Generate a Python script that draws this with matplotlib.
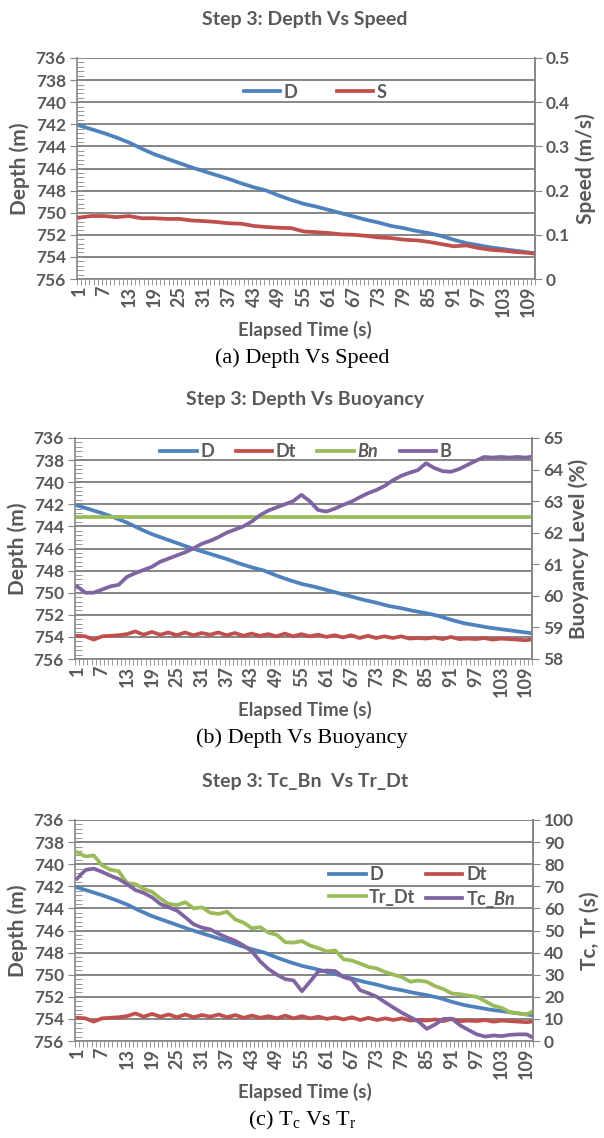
import matplotlib
matplotlib.use("Agg")
import matplotlib.pyplot as plt
from matplotlib.ticker import MultipleLocator, FixedLocator

plt.rcParams['font.family'] = ['Lato', 'DejaVu Sans']
plt.rcParams['mathtext.fontset'] = 'custom'
plt.rcParams['mathtext.rm'] = 'Liberation Serif'
plt.rcParams['mathtext.it'] = 'Lato:italic:bold'

GREY = '#595959'
GRID = '#868686'
BLUE = '#4F81BD'
RED = '#C0504D'
GREEN = '#9BBB59'
PURPLE = '#8064A2'

# elapsed time samples (s)
t_slow = [1, 4, 7, 10, 13, 16, 19, 22, 25, 28, 31, 34, 37, 40, 43, 46, 49, 52, 55, 58,
          61, 64, 67, 70, 73, 76, 79, 82, 85, 88, 91, 94, 97, 100, 103, 106, 109, 110]
t_fast = list(range(1, 110, 2)) + [110]

# depth (m)
depth = [742.1, 742.45, 742.8, 743.2, 743.65, 744.2, 744.7, 745.1, 745.5, 745.9,
         746.25, 746.6, 746.95, 747.35, 747.7, 748.0, 748.45, 748.85, 749.2, 749.45,
         749.75, 750.05, 750.35, 750.65, 750.9, 751.2, 751.4, 751.65, 751.85, 752.1,
         752.45, 752.75, 752.95, 753.15, 753.3, 753.45, 753.6, 753.65]

# speed (m/s)
speed = [0.139, 0.1425, 0.1425, 0.14, 0.1425, 0.1375, 0.1375, 0.136, 0.136, 0.1325,
         0.131, 0.129, 0.126, 0.125, 0.12, 0.1175, 0.116, 0.115, 0.1075, 0.106,
         0.104, 0.101, 0.1, 0.0975, 0.094, 0.0925, 0.089, 0.0875, 0.084, 0.079,
         0.074, 0.076, 0.07, 0.066, 0.064, 0.061, 0.059, 0.058]

# target depth (m)
depth_target = [753.9, 753.95, 754.25, 753.95, 753.9, 753.85, 753.75, 753.5, 753.8, 753.55,
                753.8, 753.6, 753.85, 753.6, 753.85, 753.65, 753.8, 753.6, 753.85, 753.65,
                753.9, 753.7, 753.9, 753.75, 753.95, 753.7, 753.95, 753.75, 753.95, 753.8,
                754.0, 753.85, 754.05, 753.85, 754.1, 753.9, 754.1, 753.95, 754.1, 753.95,
                754.15, 754.1, 754.15, 754.05, 754.2, 754.0, 754.2, 754.15, 754.2, 754.1,
                754.25, 754.15, 754.2, 754.25, 754.3, 754.25]

# buoyancy level (%)
buoy_neutral = 62.5
buoy = [60.3, 60.1, 60.1, 60.2, 60.3, 60.35, 60.6, 60.72, 60.82, 60.92,
        61.08, 61.18, 61.28, 61.38, 61.5, 61.65, 61.74, 61.86, 62.0, 62.1,
        62.2, 62.35, 62.55, 62.7, 62.8, 62.9, 63.0, 63.2, 63.0, 62.72,
        62.67, 62.76, 62.88, 62.98, 63.12, 63.25, 63.35, 63.48, 63.66, 63.8,
        63.9, 63.98, 64.2, 64.05, 63.95, 63.93, 64.02, 64.15, 64.28, 64.4,
        64.38, 64.4, 64.38, 64.4, 64.38, 64.4]

# times (s)
tr_dt = [85.4, 83.5, 84.0, 79.5, 77.5, 76.8, 71.5, 71.0, 68.8, 67.5,
         64.5, 62.0, 61.5, 62.8, 60.0, 60.5, 58.0, 57.5, 58.5, 55.0,
         53.5, 51.0, 51.5, 49.0, 48.0, 44.7, 44.5, 45.2, 43.2, 42.0,
         40.5, 41.0, 37.0, 36.4, 35.0, 33.5, 32.8, 31.2, 30.0, 29.0,
         26.8, 27.4, 26.8, 24.8, 23.5, 21.5, 21.2, 20.5, 20.0, 18.0,
         16.0, 15.0, 13.0, 12.5, 12.0, 13.0]
tc_bn = [73.5, 77.4, 78.0, 76.5, 74.8, 73.3, 71.0, 68.3, 67.0, 65.0,
         62.0, 60.5, 59.0, 56.0, 52.8, 51.3, 50.5, 48.5, 46.8, 45.3,
         43.2, 40.5, 36.0, 32.5, 30.0, 28.0, 27.4, 22.5, 27.0, 31.6,
         31.9, 31.6, 28.9, 27.8, 23.0, 21.6, 20.0, 17.5, 15.1, 12.8,
         10.8, 8.8, 5.5, 7.5, 10.0, 10.1, 7.1, 5.0, 3.0, 2.0,
         2.5, 2.2, 2.8, 3.0, 3.0, 2.0]

x_labels = list(range(1, 110, 6))

fig = plt.figure(figsize=(6.04, 11.38), dpi=100)
H = 1138.0
LW = 2.7


def bold_labels(ax):
    for lab in ax.get_xticklabels() + ax.get_yticklabels():
        lab.set_fontweight('bold')


def style_legend(leg):
    for txt in leg.get_texts():
        txt.set_color(GREY)
        txt.set_fontweight('bold')


def make_panel(top_px, left_px, right_px, r_lim, r_step, r_label, title, caption):
    bottom_px = top_px + 221
    ax = fig.add_axes([left_px / 604, 1 - bottom_px / H, (right_px - left_px) / 604, 221 / H])
    ax.set_xlim(0.5, 110.5)
    ax.set_ylim(756, 736)
    ax.set_yticks(range(736, 757, 2))
    ax.yaxis.set_minor_locator(MultipleLocator(0.4))
    ax.set_xticks(x_labels)
    ax.xaxis.set_minor_locator(FixedLocator([i + 0.5 for i in range(111)]))
    ax.tick_params(axis='x', which='major', length=0, labelrotation=90, pad=5,
                   labelsize=13, labelcolor=GREY)
    ax.tick_params(axis='x', which='minor', length=4, direction='out', color=GRID)
    ax.tick_params(axis='y', which='major', length=5, direction='out', color=GRID,
                   labelsize=12.5, labelcolor=GREY, pad=3)
    ax.tick_params(axis='y', which='minor', length=5, direction='in', color=GRID)
    ax.grid(axis='y', which='major', color=GRID, lw=1.4)
    ax.set_axisbelow(True)
    for s in ['left', 'right', 'bottom']:
        ax.spines[s].set_color(GRID)
        ax.spines[s].set_linewidth(1.2)
    ax.spines['top'].set_visible(False)

    rax = ax.twinx()
    rax.set_ylim(*r_lim)
    rax.yaxis.set_major_locator(MultipleLocator(r_step))
    rax.tick_params(axis='y', length=5, direction='out', color=GRID,
                    labelsize=12.5, labelcolor=GREY, pad=3)
    for s in ['left', 'top', 'bottom']:
        rax.spines[s].set_visible(False)
    rax.spines['right'].set_color(GRID)
    rax.spines['right'].set_linewidth(1.2)

    ax.set_ylabel('Depth (m)', color=GREY, fontsize=15, fontweight='bold', labelpad=4)
    rax.set_ylabel(r_label, color=GREY, fontsize=15, fontweight='bold', rotation=90, labelpad=4)

    fig.text(0.505, 1 - (top_px - 38) / H, title, ha='center', va='center',
             color=GREY, fontsize=14, fontweight='bold')
    fig.text(0.505, 1 - (top_px + 272) / H, 'Elapsed Time (s)', ha='center', va='center',
             color=GREY, fontsize=13.5, fontweight='bold')
    fig.text(0.5, 1 - (top_px + 300) / H, caption, ha='center', va='center',
             color='black', fontsize=16, family='Liberation Serif')
    return ax, rax


# (a) depth vs speed
ax, rax = make_panel(58, 77, 535, (0, 0.5), 0.1, 'Speed (m/s)',
                     'Step 3: Depth Vs Speed', '(a) Depth Vs Speed')
h1, = ax.plot(t_slow, depth, color=BLUE, lw=LW)
h2, = rax.plot(t_slow, speed, color=RED, lw=LW)
rax.yaxis.set_major_formatter(plt.FuncFormatter(lambda v, p: '0' if v == 0 else f'{v:.1f}'))
leg = rax.legend([h1, h2], ['D', 'S'], loc='center', bbox_to_anchor=(0.52, 0.846),
                 ncol=2, frameon=False, fontsize=13, handlelength=2.0, columnspacing=2.2,
                 handletextpad=0.2)
style_legend(leg)
bold_labels(ax)
bold_labels(rax)

# (b) depth vs buoyancy
ax, rax = make_panel(438, 75, 532, (58, 65), 1, 'Buoyancy Level (%)',
                     'Step 3: Depth Vs Buoyancy', '(b) Depth Vs Buoyancy')
h1, = ax.plot(t_slow, depth, color=BLUE, lw=LW)
h2, = ax.plot(t_fast, depth_target, color=RED, lw=LW)
h3 = rax.axhline(buoy_neutral, color=GREEN, lw=LW)
h4, = rax.plot(t_fast, buoy, color=PURPLE, lw=LW)
leg = rax.legend([h1, h2, h3, h4], ['D', 'Dt', 'Bn', 'B'], loc='center',
                 bbox_to_anchor=(0.505, 0.937), ncol=4, frameon=False, fontsize=13,
                 handlelength=2.0, columnspacing=1.2, handletextpad=0.2)
style_legend(leg)
leg.get_texts()[2].set_style('italic')
bold_labels(ax)
bold_labels(rax)

# (c) Tc_Bn vs Tr_Dt
ax, rax = make_panel(820, 75, 533, (0, 100), 10, 'Tc, Tr (s)',
                     'Step 3: Tc_Bn  Vs Tr_Dt', r'(c) T$_\mathrm{c}$ Vs T$_\mathrm{r}$')
h1, = ax.plot(t_slow, depth, color=BLUE, lw=LW)
h2, = ax.plot(t_fast, depth_target, color=RED, lw=LW)
h3, = rax.plot(t_fast, tr_dt, color=GREEN, lw=LW)
h4, = rax.plot(t_fast, tc_bn, color=PURPLE, lw=LW)
# row-wise order: D, Dt / Tr_Dt, Tc_Bn
leg = rax.legend([h1, h3, h2, h4], ['D', 'Tr_Dt', 'Dt', r'Tc_$\mathit{Bn}$'],
                 loc='upper left', bbox_to_anchor=(0.52, 0.865), ncol=2, frameon=False,
                 fontsize=13, handlelength=2.0, columnspacing=0.6, handletextpad=0.2,
                 labelspacing=0.3)
style_legend(leg)
bold_labels(ax)
bold_labels(rax)

fig.savefig('out.png', dpi=100)
